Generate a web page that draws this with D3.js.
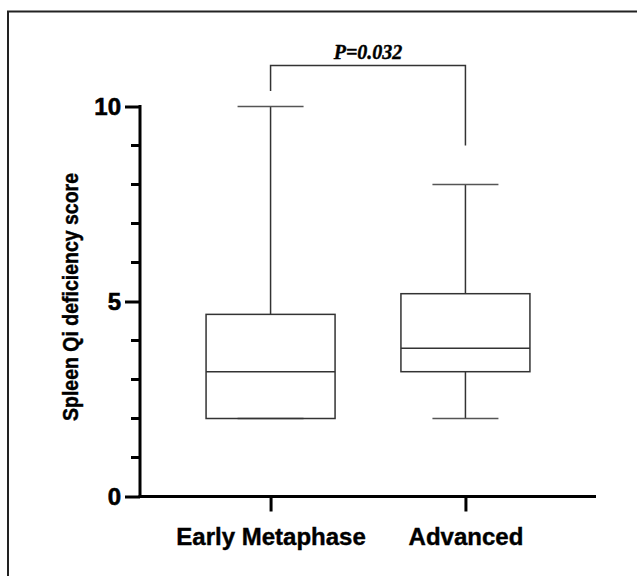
<!DOCTYPE html>
<html>
<head>
<meta charset="utf-8">
<script src="https://cdn.jsdelivr.net/npm/d3@7"></script>
<style>
  html, body { margin: 0; padding: 0; background: #fff; }
  svg { display: block; }
</style>
</head>
<body>
<div id="chart"></div>
<script>
// Box plot — Spleen Qi deficiency score by stage

var categories = ["Early Metaphase", "Advanced"];
var mins     = [2, 2];
var q1s      = [2, 3.2];
var medians  = [3.2, 3.8];
var q3s      = [4.67, 5.2];
var maxs     = [10, 8];

var yTicks = [0, 5, 10];
var pLabel = "P=0.032";
var bracketTop = 11.05;          // horizontal bar of the significance bracket
var bracketLegEnds = [10.4, 9.0]; // where each leg stops

var W = 637, H = 576;
var sansFont = "Liberation Sans, Arial, sans-serif";

var svg = d3.select("#chart").append("svg")
    .attr("width", W)
    .attr("height", H);

// Outer frame (only top and left edges show)
svg.append("path")
    .attr("d", "M8," + (H + 5) + "V11.5H" + (W + 5))
    .attr("fill", "none")
    .attr("stroke", "#222")
    .attr("stroke-width", 2);

var y = d3.scaleLinear().domain([0, 10]).range([496.5, 106.5]);
var x = d3.scalePoint().domain(categories).range([140, 596]).padding(0.67);

var axisX0 = 140;
var boxW = 129;
var capW = 66;

// Y axis
var yAxis = svg.append("g")
    .attr("transform", "translate(" + axisX0 + ",0)")
    .call(d3.axisLeft(y).tickValues(yTicks).tickSize(15).tickPadding(4).tickFormat(d3.format("d")));
yAxis.select(".domain").remove();
yAxis.selectAll(".tick line").attr("stroke", "#000").attr("stroke-width", 3);
yAxis.selectAll(".tick text")
    .attr("fill", "#000")
    .attr("stroke", "#000")
    .attr("stroke-width", 0.6)
    .attr("font-family", sansFont)
    .attr("font-weight", "bold")
    .attr("font-size", "24px");

// Minor ticks
yAxis.selectAll(".minor")
    .data(d3.range(0, 11).filter(function (v) { return yTicks.indexOf(v) < 0; }))
    .enter().append("line")
    .attr("class", "minor")
    .attr("x1", -9).attr("x2", 0)
    .attr("y1", function (d) { return y(d); })
    .attr("y2", function (d) { return y(d); })
    .attr("stroke", "#000")
    .attr("stroke-width", 3);

// Axis lines
svg.append("line")
    .attr("x1", axisX0).attr("x2", axisX0)
    .attr("y1", y(10) - 1.5).attr("y2", y(0) + 1.5)
    .attr("stroke", "#000").attr("stroke-width", 3);

var xAxis = svg.append("g")
    .attr("transform", "translate(0," + y(0) + ")")
    .call(d3.axisBottom(x).tickSize(15).tickPadding(16));
xAxis.select(".domain").remove();
xAxis.selectAll(".tick line").attr("stroke", "#000").attr("stroke-width", 3);
xAxis.selectAll(".tick text")
    .attr("fill", "#000")
    .attr("stroke", "#000")
    .attr("stroke-width", 0.4)
    .attr("font-family", sansFont)
    .attr("font-weight", "bold")
    .attr("font-size", "24px");

svg.append("line")
    .attr("x1", axisX0 - 1.5).attr("x2", 596)
    .attr("y1", y(0)).attr("y2", y(0))
    .attr("stroke", "#000").attr("stroke-width", 3);

// Y label (slightly widened across the page, like the original export)
svg.append("text")
    .attr("transform", "translate(78,297) scale(1.15,1) rotate(-90)")
    .attr("text-anchor", "middle")
    .attr("font-family", sansFont)
    .attr("font-weight", "bold")
    .attr("font-size", "19.5px")
    .attr("fill", "#000")
    .attr("stroke", "#000")
    .attr("stroke-width", 0.4)
    .text("Spleen Qi deficiency score");

// Boxes
var data = categories.map(function (c, i) {
    return { cat: c, min: mins[i], q1: q1s[i], med: medians[i], q3: q3s[i], max: maxs[i] };
});

var boxes = svg.append("g").attr("class", "boxes")
    .selectAll("g").data(data).enter().append("g");

var stroke = "#333";

boxes.append("line") // upper whisker
    .attr("x1", function (d) { return x(d.cat); })
    .attr("x2", function (d) { return x(d.cat); })
    .attr("y1", function (d) { return y(d.q3); })
    .attr("y2", function (d) { return y(d.max); })
    .attr("stroke", stroke).attr("stroke-width", 1.5);

boxes.append("line") // lower whisker
    .attr("x1", function (d) { return x(d.cat); })
    .attr("x2", function (d) { return x(d.cat); })
    .attr("y1", function (d) { return y(d.q1); })
    .attr("y2", function (d) { return y(d.min); })
    .attr("stroke", stroke).attr("stroke-width", 1.5);

boxes.selectAll(".cap")
    .data(function (d) { return [{ cat: d.cat, v: d.max }, { cat: d.cat, v: d.min }]; })
    .enter().append("line")
    .attr("class", "cap")
    .attr("x1", function (d) { return x(d.cat) - capW / 2; })
    .attr("x2", function (d) { return x(d.cat) + capW / 2; })
    .attr("y1", function (d) { return y(d.v); })
    .attr("y2", function (d) { return y(d.v); })
    .attr("stroke", "#555").attr("stroke-width", 1.5);

boxes.append("rect")
    .attr("x", function (d) { return x(d.cat) - boxW / 2; })
    .attr("y", function (d) { return y(d.q3); })
    .attr("width", boxW)
    .attr("height", function (d) { return y(d.q1) - y(d.q3); })
    .attr("fill", "none")
    .attr("stroke", stroke).attr("stroke-width", 1.5);

boxes.append("line") // median
    .attr("x1", function (d) { return x(d.cat) - boxW / 2; })
    .attr("x2", function (d) { return x(d.cat) + boxW / 2; })
    .attr("y1", function (d) { return y(d.med); })
    .attr("y2", function (d) { return y(d.med); })
    .attr("stroke", stroke).attr("stroke-width", 1.5);

// Significance bracket
var bx0 = x(categories[0]), bx1 = x(categories[1]);
svg.append("path")
    .attr("d", "M" + bx0 + "," + y(bracketLegEnds[0]) +
               "V" + y(bracketTop) +
               "H" + bx1 +
               "V" + y(bracketLegEnds[1]))
    .attr("fill", "none")
    .attr("stroke", stroke)
    .attr("stroke-width", 1.5);

svg.append("text")
    .attr("x", (bx0 + bx1) / 2)
    .attr("y", y(bracketTop) - 6.5)
    .attr("text-anchor", "middle")
    .attr("font-family", "Liberation Serif, Times New Roman, serif")
    .attr("font-weight", "bold")
    .attr("font-style", "italic")
    .attr("font-size", "20px")
    .attr("fill", "#000")
    .attr("stroke", "#000")
    .attr("stroke-width", 0.4)
    .text(pLabel);
</script>
</body>
</html>
